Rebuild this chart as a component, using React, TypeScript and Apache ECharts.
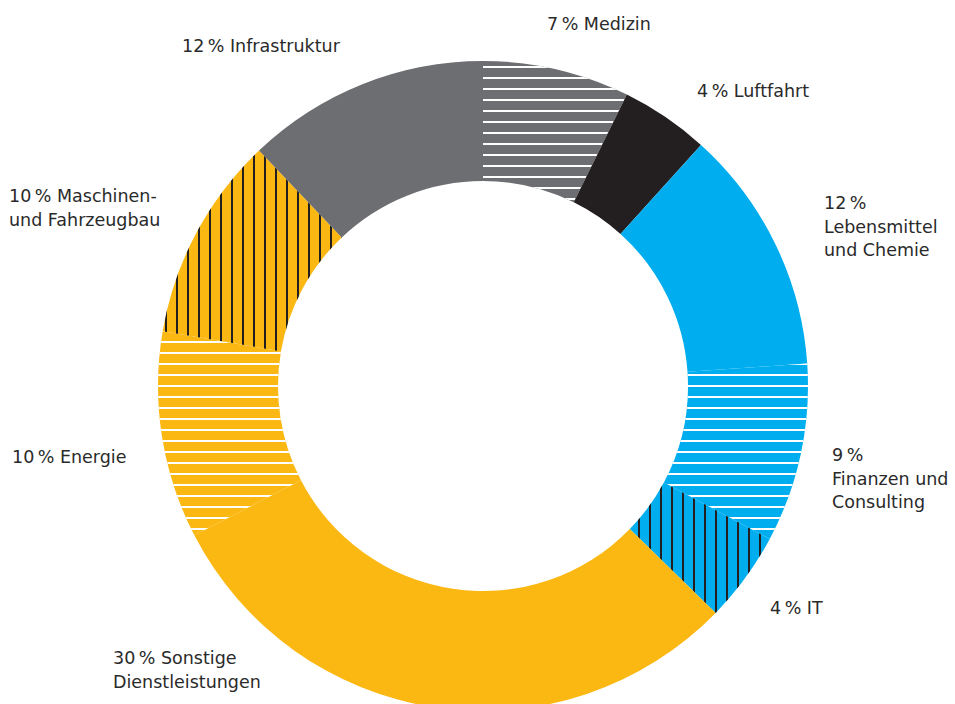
import React, { useEffect, useRef } from "react";
import * as echarts from "echarts";

const categories = [
  "Medizin",
  "Luftfahrt",
  "Lebensmittel und Chemie",
  "Finanzen und Consulting",
  "IT",
  "Sonstige Dienstleistungen",
  "Energie",
  "Maschinen- und Fahrzeugbau",
  "Infrastruktur",
];
const values = [7.3, 4.4, 12.2, 8.9, 4.5, 30.1, 10.3, 10.2, 12.1];
// percentages as printed in the labels
const labelPercents = [7, 4, 12, 9, 4, 30, 10, 10, 12];
const labelLines = [
  ["{p} Medizin"],
  ["{p} Luftfahrt"],
  ["{p}", "Lebensmittel", "und Chemie"],
  ["{p}", "Finanzen und", "Consulting"],
  ["{p} IT"],
  ["{p} Sonstige", "Dienstleistungen"],
  ["{p} Energie"],
  ["{p} Maschinen-", "und Fahrzeugbau"],
  ["{p} Infrastruktur"],
];

// layout (not data)
const labelPos: [number, number][] = [
  [547, 24],
  [697, 91],
  [824, 203],
  [832, 455],
  [770, 608],
  [113, 658],
  [12, 457],
  [9, 196],
  [182, 46],
];
const GRAY = "#6d6e71";
const BLACK = "#231f20";
const CYAN = "#00aeef";
const YELLOW = "#fbb813";
const colors = [GRAY, BLACK, CYAN, CYAN, CYAN, YELLOW, YELLOW, YELLOW, GRAY];
const hLines = { symbol: "rect", symbolSize: 1, color: "#ffffff", dashArrayX: [1, 0], dashArrayY: [2, 9], rotation: 0 };
const vLines = { symbol: "rect", symbolSize: 1, color: BLACK, dashArrayX: [2, 9], dashArrayY: [1, 0], rotation: 0 };
const decals: any[] = [hLines, null, null, hLines, vLines, null, hLines, vLines, null];

const FONT = "DejaVu Sans";
const FS = 17.5;
const LH = 23.5;

export default function App() {
  const ref = useRef<HTMLDivElement>(null);
  useEffect(() => {
    document.body.style.margin = "0";
    const chart = echarts.init(ref.current!, undefined, { renderer: "svg" });
    const graphics: any[] = [];
    labelLines.forEach((lines, i) => {
      lines.forEach((ln, j) => {
        graphics.push({
          type: "text",
          x: labelPos[i][0],
          y: labelPos[i][1] + j * LH,
          silent: true,
          style: {
            text: ln.replace("{p}", labelPercents[i] + "\u202F%"),
            fontFamily: FONT,
            fontSize: FS,
            fill: "#2a2a2a",
            textAlign: "left",
            textVerticalAlign: "middle",
          },
        });
      });
    });
    chart.setOption({
      animation: false,
      backgroundColor: "#ffffff",
      graphic: graphics,
      series: [
        {
          type: "pie",
          center: [483, 386],
          radius: [205, 325],
          startAngle: 90,
          clockwise: true,
          silent: true,
          label: { show: false },
          labelLine: { show: false },
          emphasis: { disabled: true },
          itemStyle: { borderWidth: 0 },
          data: categories.map((name, i) => ({
            name,
            value: values[i],
            itemStyle: decals[i]
              ? { color: colors[i], decal: decals[i] }
              : { color: colors[i] },
          })),
        },
      ],
    });
    return () => chart.dispose();
  }, []);
  return <div ref={ref} style={{ width: 955, height: 704 }} />;
}
